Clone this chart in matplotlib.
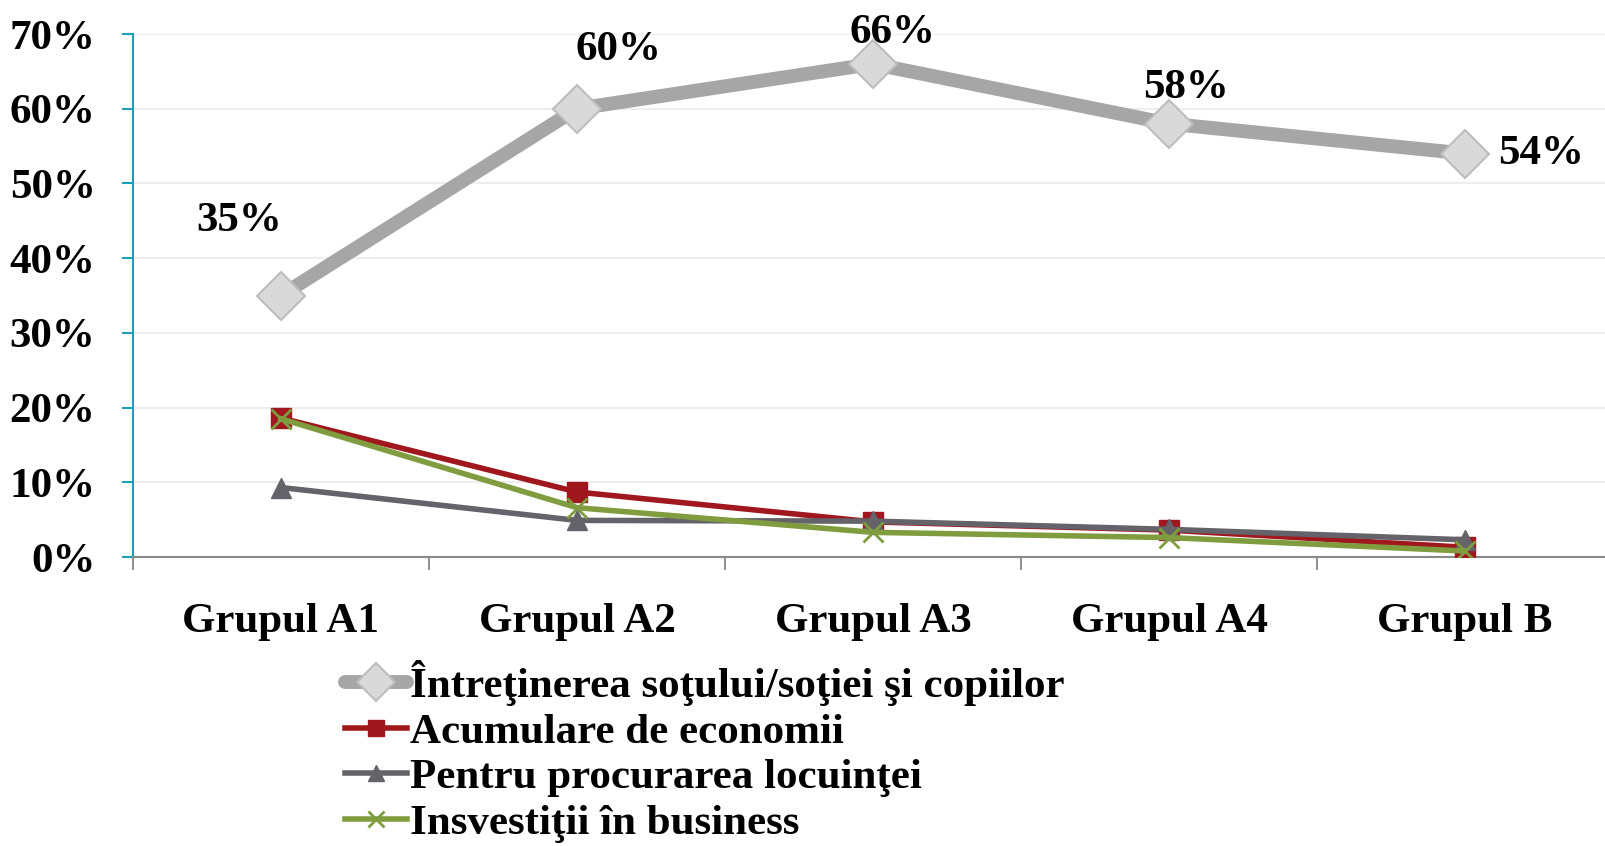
import matplotlib.pyplot as plt
import numpy as np

groups = ['Grupul A1', 'Grupul A2', 'Grupul A3', 'Grupul A4', 'Grupul B']
intretinerea = [35, 60, 66, 58, 54]
economii = [18.6, 8.7, 4.7, 3.6, 1.3]
locuinta = [9.3, 4.9, 4.8, 3.7, 2.3]
business = [18.5, 6.6, 3.3, 2.6, 0.8]
series_names = ['Întreţinerea soţului/soţiei şi copiilor', 'Acumulare de economii',
                'Pentru procurarea locuinţei', 'Insvestiţii în business']
label_offsets = [(-30, 54), (30, 42), (14, 22), (12, 26), (55, 0)]

plt.rcParams['font.family'] = ['Liberation Serif', 'DejaVu Serif']
plt.rcParams['font.weight'] = 'bold'
FS = 31

fig = plt.figure(figsize=(16.05, 8.46), dpi=100)
ax = fig.add_axes([133 / 1605, 1 - 557 / 846, 1480 / 1605, 523 / 846])

x = np.arange(len(groups))
ax.plot(x, intretinerea, color='#A6A6A6', lw=10, marker='D', ms=24,
        mfc='#D9D9D9', mec='#BDBDBD', mew=1.5, label=series_names[0], zorder=3,
        solid_capstyle='round')
ax.plot(x, economii, color='#A0171E', lw=4, marker='s', ms=14,
        mfc='#A0171E', mec='#A0171E', label=series_names[1], zorder=4)
ax.plot(x, locuinta, color='#636369', lw=4, marker='^', ms=15,
        mfc='#636369', mec='#636369', label=series_names[2], zorder=5)
ax.plot(x, business, color='#7F9C3E', lw=4, marker='x', ms=15,
        mew=2, mec='#7F9C3E', label=series_names[3], zorder=6)

for xi, v, off in zip(x, intretinerea, label_offsets):
    ax.annotate(f'{v}%', (xi, v), xytext=off, textcoords='offset points',
                ha='center', va='center', fontsize=FS, fontweight='bold')

ax.set_xlim(-0.5, 4.5)
ax.set_ylim(0, 70)
ax.set_yticks(np.arange(0, 71, 10))
ax.set_yticklabels([f'{v}%' for v in range(0, 71, 10)], fontsize=FS, fontweight='bold')
ax.set_xticks(np.arange(-0.5, 5, 1))
ax.set_xticklabels([])
ax.set_xticks(x, minor=True)
ax.set_xticklabels(groups, minor=True, fontsize=FS, fontweight='bold')
ax.tick_params(axis='x', which='major', length=9, width=1.3, color='#898989', direction='out')
ax.tick_params(axis='x', which='minor', length=0, pad=33)
ax.tick_params(axis='y', length=8, width=1.5, color='#1AA0B8', pad=19)

ax.grid(axis='y', color='#EEEEEE', lw=1.5)
ax.set_axisbelow(True)
for s in ['top', 'right']:
    ax.spines[s].set_visible(False)
ax.spines['left'].set_color('#1AA0B8')
ax.spines['left'].set_linewidth(1.5)
ax.spines['bottom'].set_color('#898989')
ax.spines['bottom'].set_linewidth(1.5)

fig.legend(loc='upper left', bbox_to_anchor=(345 / 1605, 1 - 660 / 846), frameon=False,
           handlelength=1.45, handletextpad=0.05, labelspacing=0.15,
           borderpad=0, borderaxespad=0, markerscale=0.8,
           prop={'weight': 'bold', 'size': FS})

fig.savefig('out.png', dpi=100)
